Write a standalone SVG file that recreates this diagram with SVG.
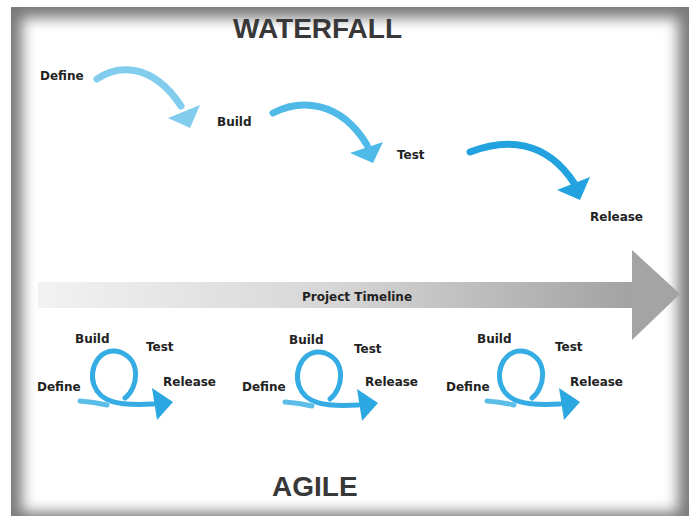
<svg xmlns="http://www.w3.org/2000/svg" width="694" height="516" viewBox="0 0 694 516">
  <defs>
    <filter id="soft" x="-10%" y="-10%" width="120%" height="120%">
      <feGaussianBlur stdDeviation="7"/>
    </filter>
    <linearGradient id="bar" x1="0" y1="0" x2="1" y2="0">
      <stop offset="0" stop-color="#f2f2f2"/>
      <stop offset="0.5" stop-color="#d6d6d6"/>
      <stop offset="1" stop-color="#a2a2a2"/>
    </linearGradient>
    <style>
      .lbl { font-family: "DejaVu Sans", "Liberation Sans", sans-serif; font-weight: bold; font-size: 12px; fill: #222; }
      .title { font-family: "Liberation Sans", Arial, sans-serif; font-weight: bold; font-size: 28px; fill: #383838; }
      .wf { fill: none; stroke-width: 7; stroke-linecap: round; }
      .loop { fill: none; stroke: #35ace4; stroke-width: 5; stroke-linecap: round; }
      .tail { fill: none; stroke: #5cbde9; stroke-width: 5; stroke-linecap: round; }
    </style>
  </defs>

  <!-- frame -->
  <rect x="0" y="0" width="694" height="516" fill="#ffffff"/>
  <rect x="11" y="7" width="678" height="520" fill="#7a7a7a"/>
  <rect x="22" y="18" width="656" height="494" fill="#ffffff" filter="url(#soft)"/>

  <!-- titles -->
  <text class="title" x="233" y="38">WATERFALL</text>
  <text class="title" x="272" y="496">AGILE</text>

  <!-- timeline -->
  <g id="timeline">
    <rect x="38" y="282" width="596" height="26" fill="url(#bar)"/>
    <polygon points="632,250 680,294 632,340" fill="#a4a4a4"/>
    <text class="lbl" x="357" y="301" text-anchor="middle" font-size="12.7">Project Timeline</text>
  </g>

  <!-- waterfall connectors -->
  <g id="connectors">
    <path class="wf" stroke="#82cdee" d="M97,79 C117,65 152,62 181,106"/>
    <polygon fill="#82cdee" points="168,118 200,105 190,128"/>
    <path class="wf" stroke="#4fb9e8" d="M273,113 C300,99 340,100 367,145"/>
    <polygon fill="#4fb9e8" points="350,153 383,142 373,163"/>
    <path class="wf" stroke="#22a2de" d="M470,152 C506,138 546,140 574,183"/>
    <polygon fill="#22a2de" points="557,190 590,177 580,200"/>
  </g>

  <!-- waterfall nodes -->
  <g id="wf-define"><text class="lbl" x="40" y="80">Define</text></g>
  <g id="wf-build"><text class="lbl" x="217" y="126">Build</text></g>
  <g id="wf-test"><text class="lbl" x="397" y="159">Test</text></g>
  <g id="wf-release"><text class="lbl" x="590" y="221">Release</text></g>

  <!-- agile loops -->
  <g id="agile-1">
    <path class="tail" d="M80,401 Q94,402 107,405"/>
    <path class="loop" d="M125,398 C138,388 142,360 120,352 C100,346 88,368 94,385 C100,402 118,406 153,404"/>
    <polygon fill="#2ba7e2" points="152,388 173,402 157,420"/>
    <text class="lbl" x="75" y="343">Build</text>
    <text class="lbl" x="146" y="351">Test</text>
    <text class="lbl" x="37" y="391">Define</text>
    <text class="lbl" x="163" y="386">Release</text>
  </g>
  <g id="agile-2">
    <g transform="translate(205,1)">
      <path class="tail" d="M80,401 Q94,402 107,405"/>
      <path class="loop" d="M125,398 C138,388 142,360 120,352 C100,346 88,368 94,385 C100,402 118,406 153,404"/>
      <polygon fill="#2ba7e2" points="152,388 173,402 157,420"/>
    </g>
    <text class="lbl" x="289" y="344">Build</text>
    <text class="lbl" x="354" y="353">Test</text>
    <text class="lbl" x="242" y="391">Define</text>
    <text class="lbl" x="365" y="386">Release</text>
  </g>
  <g id="agile-3">
    <g transform="translate(407,0)">
      <path class="tail" d="M80,401 Q94,402 107,405"/>
      <path class="loop" d="M125,398 C138,388 142,360 120,352 C100,346 88,368 94,385 C100,402 118,406 153,404"/>
      <polygon fill="#2ba7e2" points="152,388 173,402 157,420"/>
    </g>
    <text class="lbl" x="477" y="343">Build</text>
    <text class="lbl" x="555" y="351">Test</text>
    <text class="lbl" x="446" y="391">Define</text>
    <text class="lbl" x="570" y="386">Release</text>
  </g>
</svg>
